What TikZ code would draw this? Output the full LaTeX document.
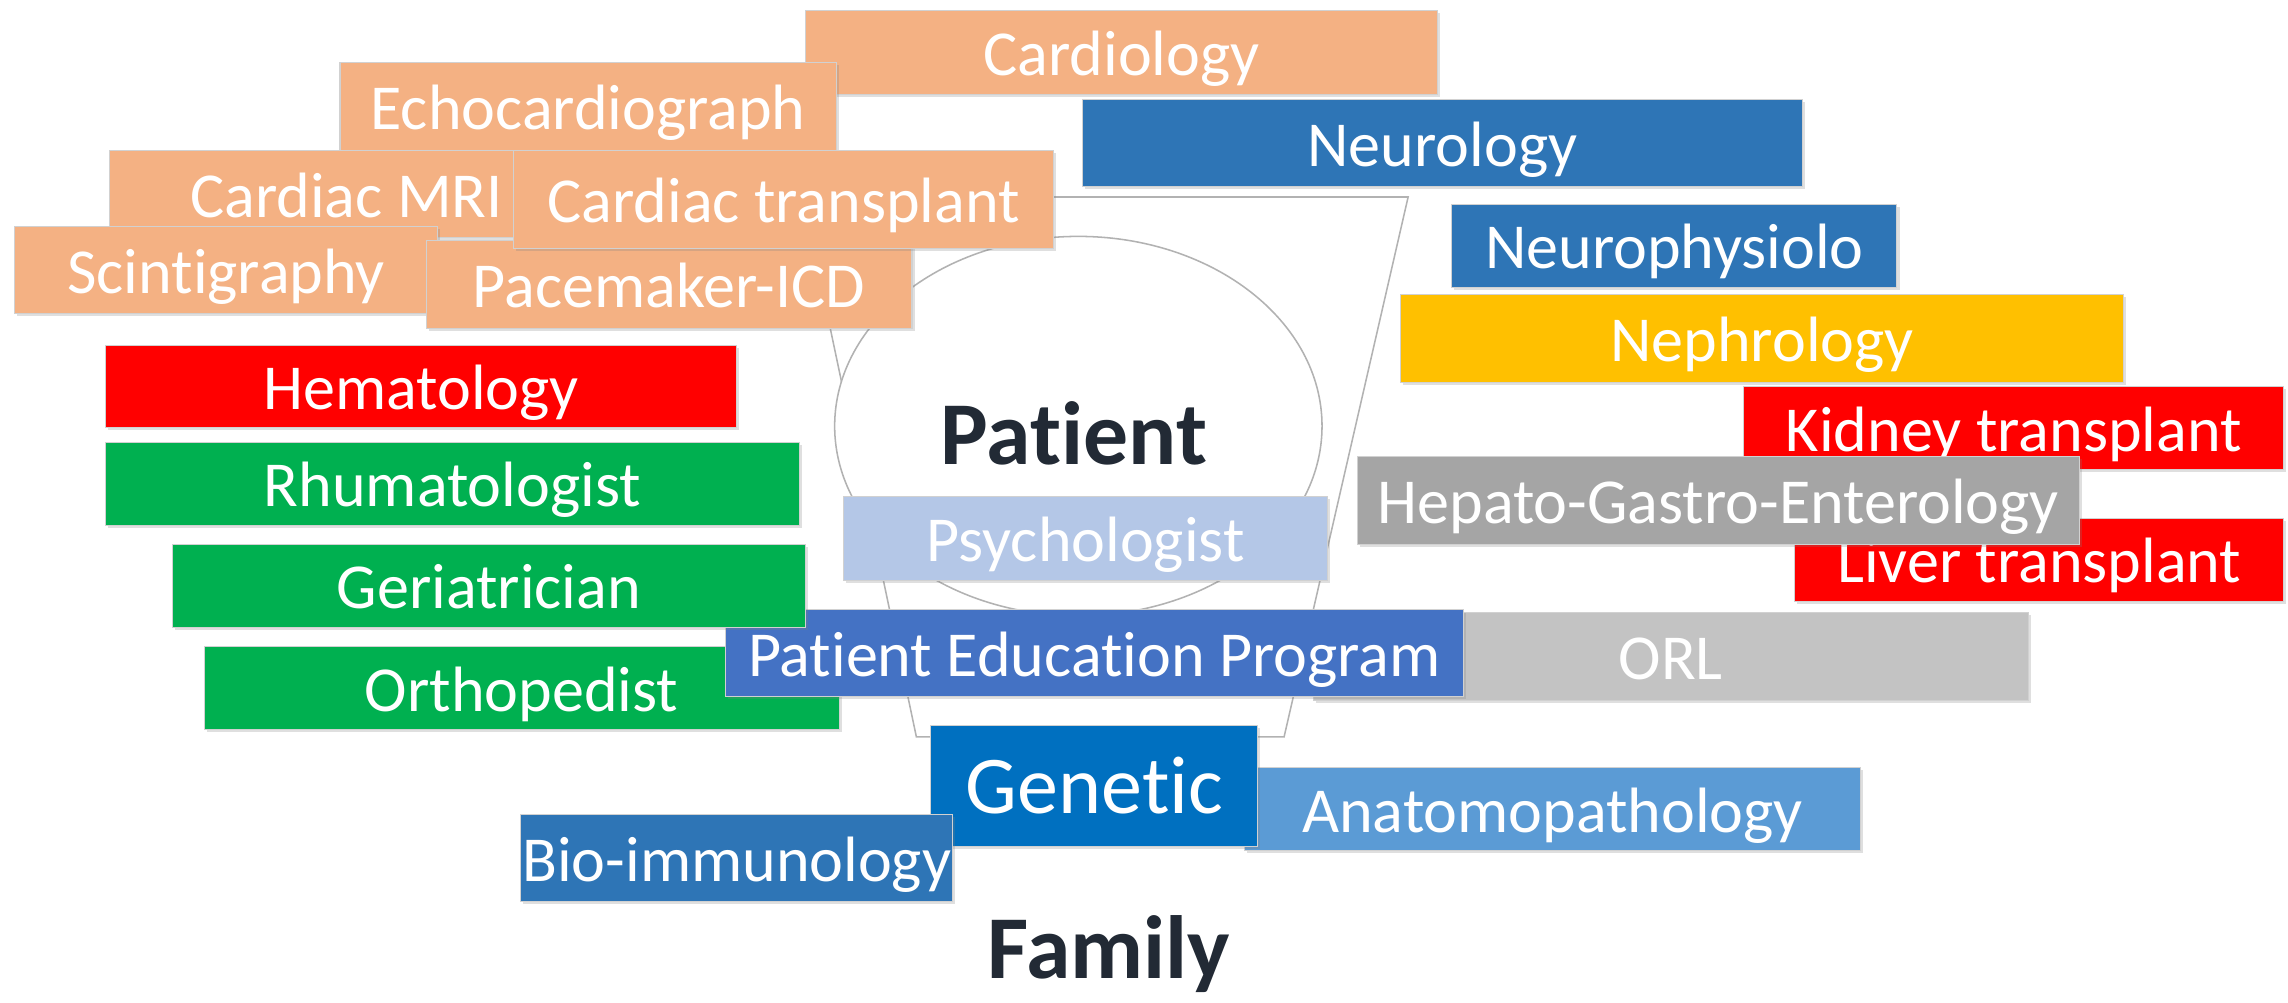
\documentclass[tikz,border=0pt]{standalone}
\usepackage{fontspec}
\setmainfont{Carlito}[Ligatures=NoCommon]
\usetikzlibrary{fit,shadows}
\definecolor{peach}{HTML}{F4B183}
\definecolor{nblue}{HTML}{2E75B6}
\definecolor{amber}{HTML}{FFC000}
\definecolor{hred}{HTML}{FF0000}
\definecolor{hgray}{HTML}{A5A5A5}
\definecolor{lgray}{HTML}{C3C3C3}
\definecolor{pblue}{HTML}{4472C4}
\definecolor{psyblue}{HTML}{B4C7E7}
\definecolor{hgreen}{HTML}{00B050}
\definecolor{gblue}{HTML}{0070C0}
\definecolor{ablue}{HTML}{5B9BD5}
\definecolor{ink}{HTML}{222A35}
\tikzset{
  box/.style={rectangle, fill=#1, draw=black!18, line width=0.4pt, inner sep=0pt,
    drop shadow={shadow xshift=1pt, shadow yshift=-1pt, opacity=0.25}},
  lbl/.style={text=white, inner sep=0pt, font=\fontsize{25}{28}\selectfont,
    text height=18pt, text depth=0pt},
  biglbl/.style={lbl, font=\fontsize{32}{36}\selectfont, text height=22pt},
  title/.style={font=\bfseries\fontsize{35}{40}\selectfont, text=ink},
  bulb/.style={fill=white, draw=black!30, line width=0.6pt},
}
\begin{document}
\begin{tikzpicture}[x=0.02cm, y=-0.02cm]
    \useasboundingbox (0,0) rectangle (1568,687);
    % patient shape
    \draw[bulb] (550,135) -- (965,135) -- (880,505) -- (628,505) -- cycle;
    \draw[bulb] (739,292) ellipse [x radius=167, y radius=130];
    \node[title] (patient) at (736,297) {Patient};
    % cardiology
    \node[box=peach, fit={(552,7)(985,65)}, label={[lbl]center:Cardiology}] (cardio) {};
    \node[box=peach, fit={(233,43)(573,103)}, label={[lbl]center:Echocardiograph}] (echo) {};
    \node[box=peach, fit={(75,103)(400,163)}, label={[lbl]center:Cardiac MRI}] (mri) {};
    \node[box=peach, fit={(10,155)(300,215)}, label={[lbl]center:Scintigraphy}] (scinti) {};
    \node[box=peach, fit={(292,165)(625,225)}, label={[lbl]center:Pacemaker-ICD}] (pace) {};
    \node[box=peach, fit={(352,103)(722,170)}, label={[lbl]center:Cardiac transplant}] (ctx) {};
    % right side
    \node[box=nblue, fit={(742,68)(1235,128)}, label={[lbl]center:Neurology}] (neuro) {};
    \node[box=nblue, fit={(995,140)(1300,197)}, label={[lbl]center:Neurophysiolo}] (nphys) {};
    \node[box=amber, fit={(960,202)(1455,262)}, label={[lbl]center:Nephrology}] (nephro) {};
    \node[box=hred, fit={(1195,265)(1565,322)}, label={[lbl]center:Kidney transplant}] (kidney) {};
    \node[box=hred, fit={(1230,355)(1565,412)}, label={[lbl]center:Liver transplant}] (liver) {};
    \node[box=hgray, fit={(930,313)(1425,373)}, label={[lbl]center:Hepato-Gastro-Enterology}] (hepato) {};
    % left side
    \node[box=hred, fit={(72,237)(505,293)}, label={[lbl]center:Hematology}] (hema) {};
    \node[box=hgreen, fit={(72,303)(548,360)}, label={[lbl]center:Rhumatologist}] (rhuma) {};
    \node[box=hgreen, fit={(140,443)(575,500)}, label={[lbl]center:Orthopedist}] (ortho) {};
    \node[box=lgray, fit={(900,420)(1390,480)}, label={[lbl]center:ORL}] (orl) {};
    \node[box=pblue, fit={(497,418)(1003,477)}, label={[lbl]center:Patient Education Program}] (edu) {};
    \node[box=hgreen, fit={(118,373)(552,430)}, label={[lbl]center:Geriatrician}] (geria) {};
    \node[box=psyblue, fit={(578,340)(910,398)}, label={[lbl]center:Psychologist}] (psy) {};
    % bottom
    \node[box=ablue, fit={(853,526)(1275,583)}, label={[lbl]center:Anatomopathology}] (anapath) {};
    \node[box=gblue, fit={(638,497)(862,580)}, label={[biglbl]center:Genetic}] (genetic) {};
    \node[box=nblue, fit={(357,558)(653,618)}, label={[lbl]center:Bio-immunology}] (bioimm) {};
    \node[title] (family) at (760,654) {Family};
\end{tikzpicture}
\end{document}
